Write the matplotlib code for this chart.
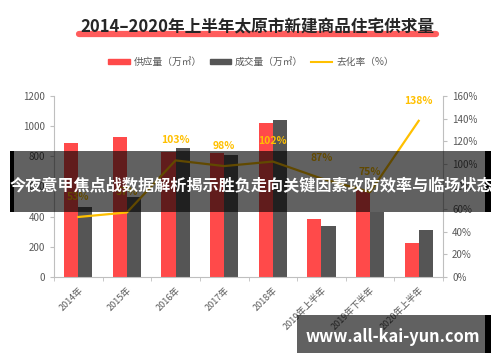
import matplotlib.pyplot as plt
import numpy as np
from matplotlib.lines import Line2D
from matplotlib.patches import Patch, Rectangle

plt.rcParams['font.family'] = ['Noto Sans CJK SC', 'DejaVu Sans']

# data
categories = ["2014年", "2015年", "2016年", "2017年", "2018年",
              "2019年上半年", "2019年下半年", "2020年上半年"]
supply = [885, 930, 830, 820, 1020, 385, 575, 225]   # 供应量（万㎡）
deals = [465, 530, 855, 808, 1040, 338, 430, 312]    # 成交量（万㎡）
rate = [53, 57, 103, 98, 102, 87, 75, 138]           # 去化率（%）

red = "#FF4A4A"
dark = "#555555"
gold = "#FFC000"
grey = "#595959"

fig = plt.figure(figsize=(5, 3.62), dpi=100, facecolor="white")
ax = fig.add_axes([0.108, 0.235, 0.778, 0.50])
ax2 = ax.twinx()

x = np.arange(len(categories))
bar_width = 0.29
ax.bar(x - bar_width / 2, supply, width=bar_width, color=red, zorder=2)
ax.bar(x + bar_width / 2, deals, width=bar_width, color=dark, zorder=2)

ax2.plot(x, rate, color=gold, linewidth=1.6, zorder=3)
for xi, r in zip(x, rate):
    ax2.annotate(f"{r}%", (xi, r), xytext=(0, 11), textcoords="offset points",
                 ha="center", va="bottom", color=gold, fontsize=7.5,
                 fontweight="bold")

# left axis
ax.set_xlim(-0.5, len(categories) - 0.5)
ax.set_ylim(0, 1200)
ax.set_yticks(np.arange(0, 1201, 200))
ax.set_xticks(x)
ax.set_xticklabels(categories, rotation=45, ha="right", rotation_mode="anchor")
ax.set_xticks(np.arange(-0.5, len(categories)), minor=True)
ax.tick_params(axis="x", which="major", length=0, pad=6, labelsize=6.5,
               colors=grey)
ax.tick_params(axis="x", which="minor", length=3, color="#bfbfbf")
ax.tick_params(axis="y", length=3, labelsize=7, colors=grey, color="#bfbfbf")

# right axis
ax2.set_ylim(0, 160)
ax2.set_yticks(np.arange(0, 161, 20))
ax2.set_yticklabels([f"{v}%" for v in range(0, 161, 20)])
ax2.tick_params(axis="y", length=3, labelsize=7, colors=grey, color="#bfbfbf")

for a in (ax, ax2):
    a.spines["top"].set_visible(False)
    for s in ("left", "right", "bottom"):
        a.spines[s].set_color("#bfbfbf")
ax.spines["right"].set_visible(False)
ax2.spines["left"].set_visible(False)
ax2.spines["bottom"].set_visible(False)

# title with red highlight stroke
fig.add_artist(Line2D([0.158, 0.872], [0.907, 0.907], color=red,
                      linewidth=4.5, solid_capstyle="round", alpha=0.9))
fig.text(0.514, 0.924, "2014–2020年上半年太原市新建商品住宅供求量",
         ha="center", va="center", fontsize=12, fontweight="bold",
         color="#262626")

# legend
handles = [Patch(color=red), Patch(color=dark),
           Line2D([0], [0], color=gold, linewidth=1.5)]
labels = ["供应量（万㎡）", "成交量（万㎡）", "去化率（%）"]
fig.legend(handles, labels, loc="center", bbox_to_anchor=(0.502, 0.829),
           ncol=3, frameon=False, fontsize=7, handlelength=2.2,
           handleheight=0.5, columnspacing=0.8, handletextpad=0.4,
           labelcolor=grey)

# overlay banners
fig.add_artist(Rectangle((0.02, 0.414), 0.962, 0.169, transform=fig.transFigure,
                         facecolor="black", alpha=0.62, zorder=10))
fig.add_artist(Rectangle((0.02, 0.414), 0.008, 0.169, transform=fig.transFigure,
                         facecolor="black", zorder=11))
fig.add_artist(Rectangle((0.970, 0.414), 0.012, 0.169, transform=fig.transFigure,
                         facecolor="black", zorder=11))
fig.text(0.502, 0.489, "今夜意甲焦点战数据解析揭示胜负走向关键因素攻防效率与临场状态",
         ha="center", va="center", color="white", fontsize=11.6,
         fontweight="bold", zorder=12)

fig.add_artist(Rectangle((0.594, 0.025), 0.376, 0.105, transform=fig.transFigure,
                         facecolor="black", alpha=0.62, zorder=10))
fig.add_artist(Rectangle((0.970, 0.025), 0.012, 0.105, transform=fig.transFigure,
                         facecolor="black", zorder=11))
fig.text(0.786, 0.069, "www.all-kai-yun.com", ha="center", va="center",
         color="white", fontsize=11.8, fontweight="bold", zorder=12)

fig.savefig("out.png", dpi=100)
